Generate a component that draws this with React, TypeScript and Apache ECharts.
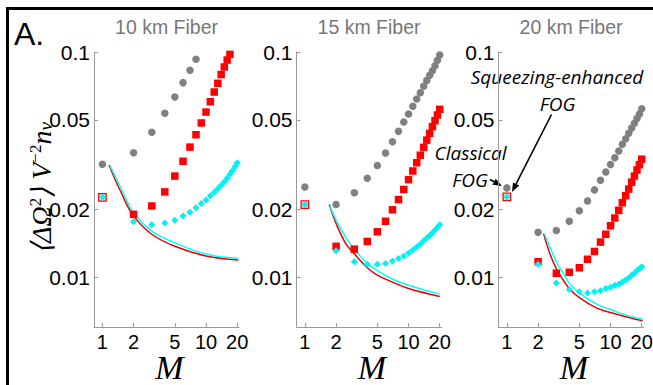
import React, { useEffect, useRef } from 'react';
import * as echarts from 'echarts';

const panelTitles = ['10 km Fiber', '15 km Fiber', '20 km Fiber'];
const xTicks = [1, 2, 5, 10, 20];
const yTicks = [0.01, 0.02, 0.05, 0.1];
const xRange = [0.83, 20.8];
const yRange = [0.006, 0.1];

// Panel 1: 10 km
const p1ClassicalM = [1, 2, 3, 4, 5, 6, 7, 8];
const p1Classical = [0.0317, 0.0357, 0.044, 0.0534, 0.0631, 0.0731, 0.0829, 0.0928];
const p1SqueezedM = [1, 2, 3, 4, 5, 6, 7, 8, 9, 10, 11, 12, 13, 14, 15, 16, 17];
const p1Squeezed = [0.0226, 0.019, 0.0207, 0.0239, 0.0281, 0.0327, 0.0378, 0.0429, 0.0484, 0.0541, 0.0601, 0.0664, 0.0726, 0.0794, 0.0858, 0.0921, 0.0976];
const p1OptimalM = [1, 2, 3, 4, 5, 6, 7, 8, 9, 10, 11, 12, 13, 14, 15, 16, 17, 18, 19, 20];
const p1Optimal = [0.0226, 0.0176, 0.0171, 0.0174, 0.0179, 0.0187, 0.0194, 0.0203, 0.0212, 0.022, 0.023, 0.0238, 0.0247, 0.0256, 0.0265, 0.0275, 0.0286, 0.0297, 0.0309, 0.0322];
const p1RedCurveM = [1.16, 1.5, 2, 3, 5, 10, 20.5];
const p1RedCurve = [0.0315, 0.024, 0.0187, 0.0155, 0.0137, 0.0124, 0.0119];
const p1CyanCurveM = [1.18, 1.5, 2, 3, 5, 10, 20.5];
const p1CyanCurve = [0.0313, 0.025, 0.0193, 0.016, 0.0142, 0.01265, 0.0121];

// Panel 2: 15 km
const p2ClassicalM = [1, 2, 3, 4, 5, 6, 7, 8, 9, 10, 11, 12, 13, 14, 15, 16, 17, 18, 19, 20];
const p2Classical = [0.0251, 0.021, 0.0237, 0.0275, 0.0313, 0.0356, 0.0399, 0.0444, 0.0489, 0.053, 0.0574, 0.0618, 0.0659, 0.0704, 0.0748, 0.0788, 0.0826, 0.0868, 0.0918, 0.097];
const p2SqueezedM = [1, 2, 3, 4, 5, 6, 7, 8, 9, 10, 11, 12, 13, 14, 15, 16, 17, 18, 19, 20];
const p2Squeezed = [0.021, 0.0137, 0.0133, 0.0144, 0.0159, 0.0177, 0.0199, 0.0221, 0.0245, 0.0271, 0.0296, 0.0322, 0.0348, 0.0377, 0.0406, 0.0435, 0.0466, 0.0495, 0.0525, 0.0556];
const p2OptimalM = [1, 2, 3, 4, 5, 6, 7, 8, 9, 10, 11, 12, 13, 14, 15, 16, 17, 18, 19, 20];
const p2Optimal = [0.021, 0.0131, 0.0117, 0.0114, 0.0114, 0.0115, 0.0118, 0.0121, 0.0124, 0.0128, 0.0132, 0.0136, 0.014, 0.0145, 0.0149, 0.0153, 0.0157, 0.0162, 0.0166, 0.0171];
const p2RedCurveM = [1.72, 2, 2.5, 3, 4, 5, 7, 10, 20];
const p2RedCurve = [0.021, 0.0173, 0.014, 0.0127, 0.011, 0.0102, 0.0095, 0.0089, 0.0082];
const p2CyanCurveM = [1.74, 2, 2.5, 3, 4, 5, 7, 10, 20];
const p2CyanCurve = [0.0207, 0.0179, 0.0149, 0.0133, 0.0115, 0.0107, 0.0098, 0.0092, 0.0084];

// Panel 3: 20 km
const p3ClassicalM = [1, 2, 3, 4, 5, 6, 7, 8, 9, 10, 11, 12, 13, 14, 15, 16, 17, 18, 19, 20];
const p3Classical = [0.0249, 0.0158, 0.0161, 0.0177, 0.0197, 0.0218, 0.0244, 0.0269, 0.0293, 0.0316, 0.0339, 0.0363, 0.0389, 0.0412, 0.0435, 0.0459, 0.0482, 0.0506, 0.053, 0.056];
const p3SqueezedM = [1, 2, 3, 4, 5, 6, 7, 8, 9, 10, 11, 12, 13, 14, 15, 16, 17, 18, 19, 20];
const p3Squeezed = [0.0227, 0.0117, 0.0104, 0.0105, 0.011, 0.012, 0.013, 0.0143, 0.0155, 0.0169, 0.0183, 0.0198, 0.0214, 0.023, 0.0246, 0.0264, 0.0281, 0.0299, 0.0316, 0.0334];
const p3OptimalM = [1, 2, 3, 4, 5, 6, 7, 8, 9, 10, 11, 12, 13, 14, 15, 16, 17, 18, 19, 20];
const p3Optimal = [0.0227, 0.0114, 0.0094, 0.0088, 0.0086, 0.0085, 0.0086, 0.0087, 0.0089, 0.009, 0.0092, 0.0093, 0.0095, 0.0097, 0.0099, 0.0102, 0.0104, 0.0107, 0.0109, 0.0111];
const p3RedCurveM = [2.26, 2.6, 3, 3.5, 4, 5, 7.3, 10.6, 15.4, 20.4];
const p3RedCurve = [0.0156, 0.0127, 0.0109, 0.0097, 0.0089, 0.0081, 0.0073, 0.0069, 0.0066, 0.0064];
const p3CyanCurveM = [2.31, 3, 3.5, 4, 5, 7.3, 10.6, 15.4, 20.4];
const p3CyanCurve = [0.0155, 0.0117, 0.0104, 0.0094, 0.0085, 0.0076, 0.0071, 0.0067, 0.0065];

const panels = [
  { cM: p1ClassicalM, c: p1Classical, sM: p1SqueezedM, s: p1Squeezed, oM: p1OptimalM, o: p1Optimal, rlM: p1RedCurveM, rl: p1RedCurve, clM: p1CyanCurveM, cl: p1CyanCurve },
  { cM: p2ClassicalM, c: p2Classical, sM: p2SqueezedM, s: p2Squeezed, oM: p2OptimalM, o: p2Optimal, rlM: p2RedCurveM, rl: p2RedCurve, clM: p2CyanCurveM, cl: p2CyanCurve },
  { cM: p3ClassicalM, c: p3Classical, sM: p3SqueezedM, s: p3Squeezed, oM: p3OptimalM, o: p3Optimal, rlM: p3RedCurveM, rl: p3RedCurve, clM: p3CyanCurveM, cl: p3CyanCurve },
];

const gridLefts = [94, 296.5, 498.5];
const GRID_W = 145;
const GRID_TOP = 52;
const GRID_H = 275;

const GRAY = '#808080';
const RED = '#ff0000';
const CYAN = '#00f2f2';
const AXIS = '#9a9a9a';

const toPts = (M: number[], V: number[]) => M.map((m, i) => [Math.log10(m), Math.log10(V[i])]);

function arrow(x1: number, y1: number, x2: number, y2: number, len = 9, half = 3.5) {
  const dx = x2 - x1, dy = y2 - y1;
  const d = Math.hypot(dx, dy);
  const ux = dx / d, uy = dy / d;
  const bx = x2 - ux * len, by = y2 - uy * len;
  return [
    { type: 'line', shape: { x1, y1, x2: bx, y2: by }, style: { stroke: '#000', lineWidth: 1.6 } },
    {
      type: 'polygon',
      shape: { points: [[x2, y2], [bx - uy * half, by + ux * half], [bx + uy * half, by - ux * half]] },
      style: { fill: '#000' },
    },
  ];
}

export default function App() {
  const ref = useRef<HTMLDivElement>(null);
  useEffect(() => {
    if (!ref.current) return;
    const chart = echarts.init(ref.current, undefined, { renderer: 'svg' });
    const grids = gridLefts.map((l) => ({
      left: l, top: GRID_TOP, width: GRID_W, height: GRID_H, containLabel: false, outerBoundsMode: 'none',
    }));
    const xAxes = gridLefts.map((_, i) => ({
      type: 'value',
      gridIndex: i,
      min: Math.log10(xRange[0]),
      max: Math.log10(xRange[1]),
      name: 'M',
      nameLocation: 'middle',
      nameGap: 27,
      nameMoveOverlap: false,
      nameTextStyle: {
        fontFamily: 'Liberation Serif', fontStyle: 'italic', fontSize: 34, lineHeight: 26, color: '#000', padding: [0, 0, 0, 6],
      },
      axisLine: { show: true, onZero: false, lineStyle: { color: AXIS, width: 1 } },
      axisTick: { show: true, inside: true, length: 4, customValues: xTicks.map(Math.log10), lineStyle: { color: AXIS } },
      axisLabel: {
        show: true,
        customValues: xTicks.map(Math.log10),
        formatter: (v: number) => String(Math.round(Math.pow(10, v))),
        fontSize: 20,
        fontFamily: 'Liberation Sans',
        color: '#000',
        margin: 5,
      },
      splitLine: { show: false },
    }));
    const yAxes = gridLefts.map((_, i) => ({
      type: 'value',
      gridIndex: i,
      min: Math.log10(yRange[0]),
      max: Math.log10(yRange[1]),
      axisLine: { show: true, onZero: false, lineStyle: { color: AXIS, width: 1 } },
      axisTick: { show: true, inside: true, length: 4, customValues: yTicks.map(Math.log10), lineStyle: { color: AXIS } },
      axisLabel: {
        show: true,
        customValues: yTicks.map(Math.log10),
        formatter: (v: number) => String(Number(Math.pow(10, v).toPrecision(1))),
        fontSize: 21,
        fontFamily: 'Liberation Sans',
        color: '#000',
        margin: 4,
      },
      splitLine: { show: false },
    }));
    const series: any[] = [];
    panels.forEach((p, i) => {
      series.push({
        type: 'line', xAxisIndex: i, yAxisIndex: i, data: toPts(p.rlM, p.rl), showSymbol: false, symbol: 'none',
        smooth: 0.4, lineStyle: { color: '#ee0000', width: 1.5 }, z: 2,
      });
      series.push({
        type: 'line', xAxisIndex: i, yAxisIndex: i, data: toPts(p.clM, p.cl), showSymbol: false, symbol: 'none',
        smooth: 0.4, lineStyle: { color: '#00ffff', width: 1.5 }, z: 2,
      });
      series.push({
        type: 'scatter', xAxisIndex: i, yAxisIndex: i, data: toPts(p.cM, p.c), symbol: 'circle', symbolSize: 7.5,
        itemStyle: { color: GRAY, opacity: 1 }, z: 3,
      });
      series.push({
        type: 'scatter', xAxisIndex: i, yAxisIndex: i, symbol: 'rect', symbolSize: 7.5,
        data: toPts(p.sM, p.s).map((pt, k) =>
          k === 0 ? { value: pt, itemStyle: { color: '#ffd8d8', borderColor: RED, borderWidth: 1.3 } } : pt
        ),
        itemStyle: { color: RED, opacity: 1 }, z: 3,
      });
      series.push({
        type: 'scatter', xAxisIndex: i, yAxisIndex: i, data: toPts(p.oM, p.o), symbol: 'diamond', symbolSize: 7,
        itemStyle: { color: CYAN, opacity: 1 }, z: 4,
      });
    });

    const titleCenters = gridLefts.map((l) => l + GRID_W / 2);
    const annFont = 'italic 19px "Open Sans"';
    const graphic: any[] = [
      { type: 'line', shape: { x1: 7.5, y1: 7, x2: 7.5, y2: 385 }, style: { stroke: '#000', lineWidth: 3 } },
      { type: 'line', shape: { x1: 6, y1: 8.5, x2: 653, y2: 8.5 }, style: { stroke: '#000', lineWidth: 3 } },
      { type: 'text', x: 14, y: 34, style: { text: 'A.', font: '32px "Liberation Sans"', fill: '#000', align: 'left', verticalAlign: 'middle' } },
      ...panelTitles.map((t, i) => ({
        type: 'text', x: titleCenters[i], y: 27,
        style: { text: t, font: '19.5px "Liberation Sans"', fill: '#777', align: 'center', verticalAlign: 'middle' },
      })),
      {
        type: 'text', x: 41, y: 188, rotation: Math.PI / 2,
        style: {
          text: '{m|⟨ΔΩ}{sup|2}{m|⟩ V}{sup|−2}{m|n}{sub|v}',
          align: 'center', verticalAlign: 'middle',
          rich: {
            m: { fontFamily: 'Liberation Serif', fontStyle: 'italic', fontSize: 28, fill: '#000' },
            sup: { fontFamily: 'Liberation Serif', fontSize: 17, fill: '#000', verticalAlign: 'top' },
            sub: { fontFamily: 'Liberation Serif', fontStyle: 'italic', fontSize: 19, fill: '#000', verticalAlign: 'bottom' },
          },
        },
      },
      { type: 'text', x: 557, y: 77, style: { text: 'Squeezing-enhanced', font: annFont, lineHeight: 20, fill: '#000', align: 'center', verticalAlign: 'middle' } },
      { type: 'text', x: 557.5, y: 104, style: { text: 'FOG', font: annFont, lineHeight: 20, fill: '#000', align: 'center', verticalAlign: 'middle' } },
      { type: 'text', x: 470.5, y: 152.5, style: { text: 'Classical', font: annFont, lineHeight: 20, fill: '#000', align: 'center', verticalAlign: 'middle' } },
      { type: 'text', x: 470, y: 180, style: { text: 'FOG', font: annFont, lineHeight: 20, fill: '#000', align: 'center', verticalAlign: 'middle' } },
      ...arrow(490, 179.5, 502, 186),
      ...arrow(551.5, 114.5, 512, 192),
    ];

    chart.setOption({
      animation: false,
      backgroundColor: '#fff',
      grid: grids,
      xAxis: xAxes,
      yAxis: yAxes,
      series,
      graphic,
    });
    return () => chart.dispose();
  }, []);
  return <div ref={ref} style={{ position: 'fixed', left: 0, top: 0, width: 653, height: 385, background: '#fff' }} />;
}
